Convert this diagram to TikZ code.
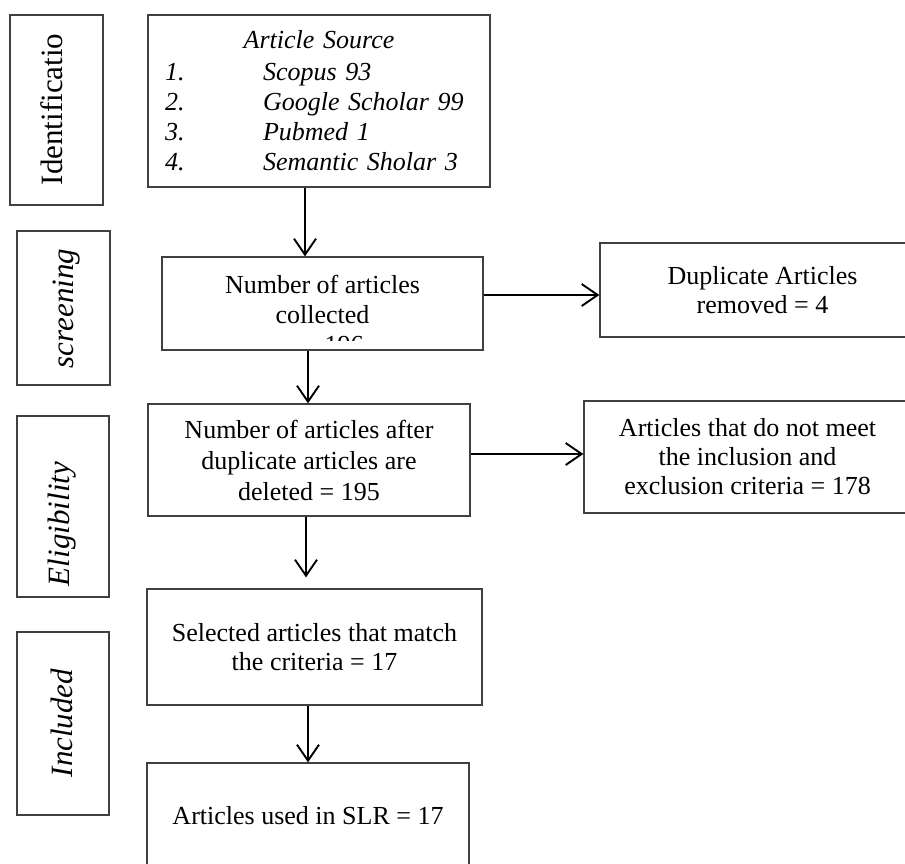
\documentclass[tikz,border=0pt]{standalone}
\usepackage{fontspec}
\setmainfont{Liberation Serif}
\usetikzlibrary{arrows.meta,positioning}

\begin{document}
\begin{tikzpicture}[x=1pt,y=1pt,
  stage/.style={draw=black!75, line width=1.3pt, inner sep=0pt, align=center, font=\fontsize{26}{29}\selectfont},
  phasebox/.style={draw=black!75, line width=1.3pt, inner sep=0pt},
  phaselabel/.style={rotate=90, anchor=base, inner sep=0pt, font=\fontsize{31}{31}\selectfont\itshape},
  arr/.style={-{Straight Barb[length=16pt,width=22pt]}, line width=1.9pt}]
  \useasboundingbox (0,0) rectangle (905,-863);

  % phases on the left
  \node[phasebox, minimum width=93pt, minimum height=190pt] (idbox) at (56.5,-110) {};
  \node[phaselabel, font=\fontsize{31}{31}\selectfont] (idlabel) at (62,-109.5) {Identificatio};
  \node[phasebox, minimum width=93pt, minimum height=154pt] (scrbox) at (63.5,-308) {};
  \node[phaselabel] (scrlabel) at (73,-308.5) {screening};
  \node[phasebox, minimum width=92pt, minimum height=181pt] (eligbox) at (63,-506.5) {};
  \node[phaselabel] (eliglabel) at (69,-524) {Eligibility};
  \node[phasebox, minimum width=92pt, minimum height=183pt] (inclbox) at (63,-723.5) {};
  \node[phaselabel] (incllabel) at (72,-723) {Included};

  % main column
  \node[stage, minimum width=342pt, minimum height=172pt, text width=308pt, align=left,
        font=\fontsize{26}{30}\selectfont\itshape] (source) at (319,-101)
    {\makebox[308pt]{Article Source}\\[2pt]
     \makebox[98pt][l]{1.}Scopus 93\\
     \makebox[98pt][l]{2.}Google Scholar 99\\
     \makebox[98pt][l]{3.}Pubmed 1\\
     \makebox[98pt][l]{4.}Semantic Sholar 3};

  \node[stage, minimum width=321pt, minimum height=93pt] (collected) at (322.5,-303.5) {};
  \begin{scope}
    \clip ([yshift=10pt]collected.south west) rectangle (collected.north east);
    \node[stage, draw=none, anchor=north, font=\fontsize{26}{30}\selectfont] (collectedtext)
      at (322.5,-274.2) {Number of articles\\collected\\\hspace*{22pt}= 196};
  \end{scope}

  \node[stage, minimum width=325pt, minimum height=94pt] (duplicate) at (762.5,-290)
    {Duplicate Articles\\removed = 4};

  \node[stage, minimum width=322pt, minimum height=112pt, font=\fontsize{26}{31}\selectfont]
    (afterdup) at (309,-460) {Number of articles after\\duplicate articles are\\deleted = 195};

  \node[stage, minimum width=327pt, minimum height=112pt] (exclusion) at (747.5,-457)
    {Articles that do not meet\\the inclusion and\\exclusion criteria = 178};

  \node[stage, minimum width=335pt, minimum height=116pt] (selected) at (314.5,-647)
    {Selected articles that match\\the criteria = 17};

  \node[stage, minimum width=322pt, minimum height=106pt] (final) at (308,-816)
    {Articles used in SLR = 17};

  % connectors
  \draw[arr] ([xshift=-14pt]source.south) -- ([xshift=-17.5pt]collected.north);
  \draw[arr] ([yshift=8.5pt]collected.east) -- ([yshift=-5pt]duplicate.west);
  \draw[arr] ([xshift=-14.5pt]collected.south) -- ([xshift=-1pt]afterdup.north);
  \draw[arr] ([yshift=6pt]afterdup.east) -- ([yshift=3pt]exclusion.west);
  \draw[arr] ([xshift=-3pt]afterdup.south) -- ([xshift=-8.5pt,yshift=11pt]selected.north);
  \draw[arr] ([xshift=-6.5pt]selected.south) -- (final.north);
\end{tikzpicture}
\end{document}
